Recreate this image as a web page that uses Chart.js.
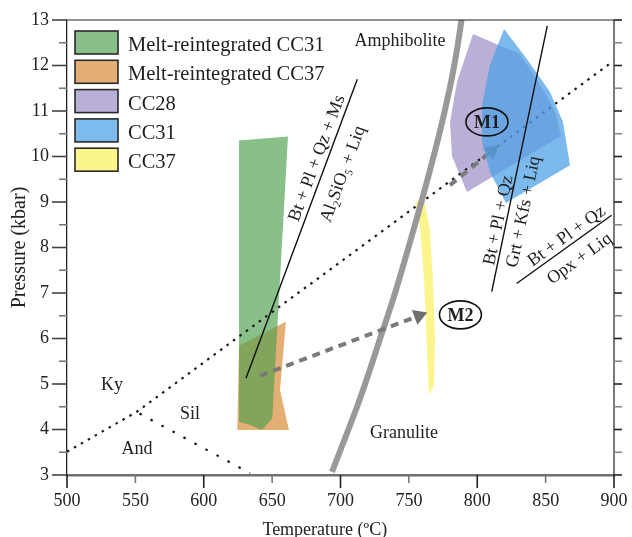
<!DOCTYPE html>
<html><head><meta charset="utf-8">
<script src="https://cdn.jsdelivr.net/npm/chart.js@4.4.1/dist/chart.umd.min.js"></script>
<style>html,body{margin:0;padding:0;background:#fff;}canvas{display:block;}</style>
</head><body>
<canvas id="c" width="632" height="537"></canvas>
<script>
// ---------- data ----------
const xAxisTitle = 'Temperature (ºC)';
const yAxisTitle = 'Pressure (kbar)';
const xRange = [500, 900];
const yRange = [3, 13];
const xTickStep = 50;
const yTickStep = 1;

const seriesLabels = ['Melt-reintegrated CC31', 'Melt-reintegrated CC37', 'CC28', 'CC31', 'CC37'];

// P–T fields [T (°C), P (kbar)]
const meltCC31 = [[625.8,10.35],[661.6,10.44],[650.1,4.25],[642.6,3.99],[633.8,4.10],[625.8,4.17]];
const meltCC37 = [[624.5,3.99],[625.8,5.84],[660.1,6.37],[655.8,4.87],[662.3,3.99]];
const cc28 = [[796.9,12.69],[831.3,12.25],[848.1,11.48],[856.9,10.98],[861.2,10.45],[792.5,9.22],[781.5,10.01],[780.1,10.76],[785.2,11.64]];
const cc31 = [[819.6,12.80],[836.4,12.14],[853.2,11.42],[862.7,10.76],[867.8,9.81],[821.0,8.98],[809.3,9.66],[803.5,10.32],[803.5,11.13],[809.3,12.01]];
const cc37 = [[754.5,8.98],[761.1,9.07],[765.4,8.38],[767.6,7.29],[769.1,5.97],[768.4,4.98],[764.7,4.76],[763.3,5.75],[761.1,7.29],[758.1,8.49]];

// boundaries and reactions
const amphGranBoundary = [[693.8,3.07],[713.9,4.65],[730.3,6.12],[740.6,7.07],[758.1,8.89],[771.7,10.43],[780.1,11.53],[784.8,12.28],[788.5,13.0],[789.2,13.15]];
const msOutLine = [[630.9,5.125],[712.3,11.70]];
const kfsLine = [[810.6,7.03],[851.2,12.87]];
const opxLine = [[828.8,7.21],[898.2,8.71]];
const kySilLine = [[500,3.51],[551,4.39],[898.3,12.07]];
const andSilLine = [[553,4.35],[633.8,3.04]];
const pathM1 = [[780.1,9.37],[810.6,10.12]];
const pathM2 = [[641.1,5.18],[757.3,6.50]];

const toXY = a => a.map(p => ({x: p[0], y: p[1]}));
const closed = a => toXY(a.concat([a[0]]));

const SERIF = '"Liberation Serif", "Times New Roman", serif';
Chart.defaults.font.family = SERIF;
Chart.defaults.color = '#222';

function polygon(label, pts, color, order) {
  return {label, data: closed(pts), showLine: true, fill: 'shape', backgroundColor: color,
    borderColor: 'rgba(0,0,0,0)', borderWidth: 0, pointRadius: 0, order, tension: 0};
}
function line(label, pts, color, width, dash, order, extra) {
  return Object.assign({label, data: toXY(pts), showLine: true, fill: false, borderColor: color,
    borderWidth: width, borderDash: dash || [], pointRadius: 0, order, tension: 0}, extra || {});
}
function arrowRotation(ctx) {
  const ch = ctx.chart, ds = ch.data.datasets[ctx.datasetIndex].data;
  const sx = ch.scales.x, sy = ch.scales.y;
  const a = ds[ds.length - 2], b = ds[ds.length - 1];
  const dx = sx.getPixelForValue(b.x) - sx.getPixelForValue(a.x);
  const dy = sy.getPixelForValue(b.y) - sy.getPixelForValue(a.y);
  return Math.atan2(dy, dx) * 180 / Math.PI + 90;
}
function arrowPath(label, pts, order) {
  return line(label, pts, '#7a7a7a', 4, [8, 6], order, {
    pointRadius: c => c.dataIndex === pts.length - 1 ? 9 : 0,
    pointStyle: 'triangle', pointRotation: arrowRotation,
    pointBackgroundColor: '#6e6e6e', pointBorderColor: '#6e6e6e', pointBorderWidth: 0
  });
}

const datasets = [
  polygon(seriesLabels[1], meltCC37, 'rgb(228,175,116)', 20),
  polygon(seriesLabels[0], meltCC31, 'rgba(78,160,80,0.667)', 19),
  polygon(seriesLabels[4], cc37, 'rgb(252,245,140)', 18),
  polygon(seriesLabels[2], cc28, 'rgb(185,175,215)', 17),
  line('Ky–Sil', kySilLine, '#1a1a1a', 2.2, [2.5, 5.5], 16),
  line('And–Sil', andSilLine, '#1a1a1a', 2.2, [2.5, 10], 16),
  arrowPath('M1 path', pathM1, 15),
  polygon(seriesLabels[3], cc31, 'rgba(80,162,230,0.75)', 14),
  line('Amphibolite–Granulite', amphGranBoundary, '#999999', 6, [], 12, {clip: 0, tension: 0.35}),
  arrowPath('M2 path', pathM2, 11),
  line('Ms-out', msOutLine, '#111', 1.4, [], 10),
  line('Kfs-in', kfsLine, '#111', 1.4, [], 10),
  line('Opx-in', opxLine, '#111', 1.4, [], 10)
];
const legendColors = ['rgb(137,192,138)', 'rgb(228,175,116)', 'rgb(185,175,215)', 'rgb(124,187,236)', 'rgb(252,245,140)'];

// ---------- plugins ----------
const SUBS = {'₀':'0','₁':'1','₂':'2','₃':'3','₄':'4','₅':'5','₆':'6','₇':'7','₈':'8','₉':'9'};
function drawRich(ctx, text, size, weight) {
  const parts = []; let cur = '';
  for (const ch of text) {
    if (SUBS[ch]) { if (cur) parts.push({t: cur, sub: false}); cur = ''; parts.push({t: SUBS[ch], sub: true}); }
    else cur += ch;
  }
  if (cur) parts.push({t: cur, sub: false});
  let w = 0;
  for (const p of parts) { ctx.font = (weight || '') + ' ' + (p.sub ? size * 0.62 : size) + 'px ' + SERIF; p.w = ctx.measureText(p.t).width; w += p.w; }
  let x = -w / 2;
  ctx.textBaseline = 'alphabetic'; ctx.textAlign = 'left';
  for (const p of parts) {
    ctx.font = (weight || '') + ' ' + (p.sub ? size * 0.62 : size) + 'px ' + SERIF;
    ctx.fillText(p.t, x, size * 0.33 + (p.sub ? size * 0.2 : 0));
    x += p.w;
  }
  return w;
}

const annotations = [
  {text: 'Amphibolite', x: 743.5, y: 12.56},
  {text: 'Granulite', x: 746.4, y: 3.95},
  {text: 'Ky', x: 532.9, y: 5.0},
  {text: 'Sil', x: 590, y: 4.36},
  {text: 'And', x: 551.2, y: 3.59},
  {text: 'Bt + Pl + Qz + Ms', x: 682.1, y: 9.97, along: msOutLine},
  {text: 'Al₂SiO₅ + Liq', x: 701.1, y: 9.62, along: msOutLine},
  {text: 'Bt + Pl + Qz', x: 814.8, y: 8.60, along: kfsLine},
  {text: 'Grt + Kfs + Liq', x: 833.1, y: 8.79, along: kfsLine},
  {text: 'Bt + Pl + Qz', x: 864.9, y: 8.27, along: opxLine},
  {text: 'Opx + Liq', x: 874.4, y: 7.77, along: opxLine},
  {text: 'M1', x: 807.1, y: 10.76, circled: true},
  {text: 'M2', x: 787.7, y: 6.52, circled: true}
];

const annotationPlugin = {
  id: 'annot',
  afterDatasetsDraw(chart) {
    const {ctx, scales: {x, y}} = chart;
    ctx.save();
    ctx.fillStyle = '#1e1e1e'; ctx.strokeStyle = '#111';
    for (const a of annotations) {
      const px = x.getPixelForValue(a.x), py = y.getPixelForValue(a.y);
      ctx.save();
      ctx.translate(px, py);
      if (a.along) {
        const p0 = a.along[0], p1 = a.along[a.along.length - 1];
        const ang = Math.atan2(y.getPixelForValue(p1[1]) - y.getPixelForValue(p0[1]), x.getPixelForValue(p1[0]) - x.getPixelForValue(p0[0]));
        ctx.rotate(ang);
      }
      if (a.circled) {
        ctx.lineWidth = 1.6;
        ctx.beginPath(); ctx.ellipse(0, 0, 21, 14, 0, 0, Math.PI * 2); ctx.stroke();
        drawRich(ctx, a.text, 18, 'bold');
      } else {
        drawRich(ctx, a.text, 18, '');
      }
      ctx.restore();
    }
    ctx.restore();
  }
};

const legendPlugin = {
  id: 'insideLegend',
  afterDatasetsDraw(chart) {
    const {ctx, chartArea: a} = chart;
    ctx.save();
    seriesLabels.forEach((lab, i) => {
      const bx = a.left + 8, by = a.top + 11 + i * 29.3;
      ctx.fillStyle = legendColors[i];
      ctx.fillRect(bx, by, 43, 23);
      ctx.strokeStyle = '#2a2a2a'; ctx.lineWidth = 1.6;
      ctx.strokeRect(bx, by, 43, 23);
      ctx.fillStyle = '#1e1e1e';
      ctx.font = '20.5px ' + SERIF; ctx.textAlign = 'left'; ctx.textBaseline = 'alphabetic';
      ctx.fillText(lab, bx + 53, by + 20);
    });
    ctx.restore();
  }
};

const framePlugin = {
  id: 'frame',
  afterDraw(chart) {
    const {ctx, chartArea: a, scales: {x, y}} = chart;
    ctx.save();
    ctx.strokeStyle = '#222'; ctx.lineWidth = 1.2;
    ctx.beginPath(); ctx.moveTo(a.left, a.top); ctx.lineTo(a.right, a.top); ctx.lineTo(a.right, a.bottom); ctx.stroke();
    for (let v = yRange[0]; v <= yRange[1] + 1e-9; v += yTickStep / 2) {
      const py = y.getPixelForValue(v);
      const major = Math.abs(v - Math.round(v)) < 1e-9;
      ctx.lineWidth = 1.6; ctx.strokeStyle = major ? '#444' : '#777';
      ctx.beginPath(); ctx.moveTo(a.left - (major ? 15 : 8), py); ctx.lineTo(a.left, py); ctx.stroke();
      ctx.strokeStyle = major ? '#222' : '#888';
      ctx.beginPath(); ctx.moveTo(a.right, py); ctx.lineTo(a.right + 8, py); ctx.stroke();
    }
    for (let v = xRange[0]; v <= xRange[1] + 1e-9; v += xTickStep) {
      const px = x.getPixelForValue(v);
      const major = Math.abs(v / 100 - Math.round(v / 100)) < 1e-9;
      ctx.lineWidth = 1.6; ctx.strokeStyle = major ? '#222' : '#777';
      ctx.beginPath(); ctx.moveTo(px, a.bottom); ctx.lineTo(px, a.bottom + (major ? 13 : 8)); ctx.stroke();
    }
    // x-axis title (sits slightly left of the axis centre, as in the original figure)
    ctx.fillStyle = '#222';
    ctx.font = '18px ' + SERIF; ctx.textAlign = 'center'; ctx.textBaseline = 'alphabetic';
    ctx.fillText(xAxisTitle, x.getPixelForValue(688.5), 535);
    ctx.restore();
  }
};

new Chart(document.getElementById('c'), {
  type: 'scatter',
  data: {datasets},
  options: {
    responsive: false, devicePixelRatio: 1, animation: false, events: [],
    layout: {padding: {top: 20, right: 18, left: 0, bottom: 0}},
    plugins: {legend: {display: false}, tooltip: {enabled: false}},
    scales: {
      x: {
        type: 'linear', position: 'bottom', min: xRange[0], max: xRange[1],
        ticks: {stepSize: xTickStep, font: {size: 18}, color: '#222', padding: 15, maxRotation: 0, autoSkip: false},
        grid: {display: false, drawTicks: false},
        border: {display: true, color: '#707070', width: 2.6},
        title: {display: false, text: xAxisTitle},
        afterFit: s => { s.height = 62; s.paddingLeft = 0; s.paddingRight = 0; }
      },
      y: {
        type: 'linear', position: 'left', min: yRange[0], max: yRange[1],
        ticks: {stepSize: yTickStep, font: {size: 18}, color: '#222', padding: 18, autoSkip: false},
        grid: {display: false, drawTicks: false},
        border: {display: true, color: '#222', width: 1.3},
        title: {display: true, text: yAxisTitle, font: {size: 20, lineHeight: 1.2}, color: '#222', padding: {top: 8, bottom: 0}},
        afterFit: s => { s.width = 67; s.paddingTop = 0; s.paddingBottom = 0; }
      }
    }
  },
  plugins: [framePlugin, legendPlugin, annotationPlugin]
});
</script>
</body></html>
